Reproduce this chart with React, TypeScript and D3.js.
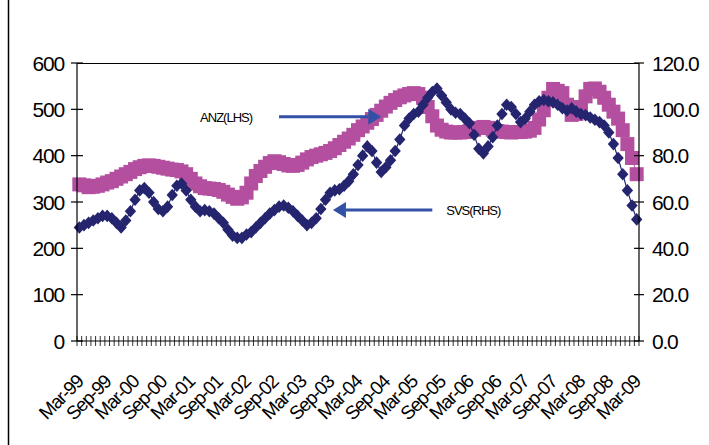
import React, { useEffect, useRef } from "react"
import * as d3 from "d3"

const width = 709
const height = 445

// monthly closes, Mar-99 .. Mar-09 (121 points)
// ANZ share price, left axis
const anz: number[] = [
	338, 336, 332, 333, 335, 338, 342, 345, 350, 355, 360, 365, 371, 375, 378,
	379, 378, 376, 374, 372, 370, 369, 366, 360, 350, 340, 334, 330, 329, 328,
	326, 322, 316, 311, 307, 310, 320, 340, 356, 367, 376, 384, 388, 386, 382,
	379, 378, 380, 385, 392, 397, 400, 403, 406, 410, 416, 423, 430, 437, 445,
	455, 463, 471, 479, 488, 497, 506, 514, 520, 526, 530, 533, 535, 533, 525,
	505, 485, 465, 456, 452, 450, 450, 450, 451, 453, 456, 460, 462, 460, 456,
	453, 452, 451, 450, 451, 451, 452, 454, 460, 478, 498, 525, 544, 540, 535,
	510, 488, 490, 505, 528, 544, 545, 538, 525, 510, 495, 480, 455, 425, 395,
	360,
]

// SVS index, right axis
const svs: number[] = [
	49, 50, 51, 52, 53, 54, 54, 53, 51, 49, 52, 56, 61, 65, 66, 64, 60, 57, 56,
	58, 63, 67, 68, 65, 61, 58, 56, 56.5, 56, 55, 53, 51, 48, 45.5, 44.5, 44.5,
	46, 47, 49, 51, 53, 55, 56.5, 58, 58.5, 57.5, 56, 54, 52, 50, 51, 53, 57, 61,
	64, 65, 65.5, 67, 69, 72, 76, 80, 84, 82, 77, 73, 75, 78, 82, 87, 93, 96, 98,
	99, 102, 105, 107.5, 109, 106, 103, 100, 98.5, 98, 96, 94, 89, 83, 81, 84, 88,
	93, 98, 102, 101, 98, 94.5, 96, 99, 102, 103.5, 104, 103.5, 103, 102, 100.5,
	99.5, 100.5, 99, 98, 97.5, 96.5, 95.5, 94.5, 93, 90, 85, 79, 72, 65, 58.5,
	52.5,
]

const leftTicks = [0, 100, 200, 300, 400, 500, 600]
const rightTicks = [0, 20, 40, 60, 80, 100, 120]
const tickLabels = [
	"Mar-99", "Sep-99", "Mar-00", "Sep-00", "Mar-01", "Sep-01", "Mar-02",
	"Sep-02", "Mar-03", "Sep-03", "Mar-04", "Sep-04", "Mar-05", "Sep-05",
	"Mar-06", "Sep-06", "Mar-07", "Sep-07", "Mar-08", "Sep-08", "Mar-09",
]

// annotations: label position, arrow start month, arrow tip month, value on its own axis
const anzNote = { text: "ANZ(LHS)", textAt: 26, from: 43, to: 65, value: 484 }
const svsNote = { text: "SVS(RHS)", textAt: 79, from: 76, to: 54.6, value: 56.5 }

const App: React.FC = () => {
	const ref = useRef<SVGSVGElement>(null)

	useEffect(() => {
		const svg = d3.select(ref.current)
		svg.selectAll("*").remove()

		const plot = { left: 77, right: 639, top: 63, bottom: 341 }
		const font = "'Liberation Sans', Arial, sans-serif"
		const navy = "#25256f"
		const magenta = "#b44fa0"
		const arrowBlue = "#3150a6"

		const months = d3.range(anz.length)
		const x = d3
			.scaleBand<number>()
			.domain(months)
			.range([plot.left, plot.right])
		const cx = (i: number) => x(0)! + (i + 0.5) * x.step()
		const yL = d3.scaleLinear().domain([0, 600]).range([plot.bottom, plot.top])
		const yR = d3.scaleLinear().domain([0, 120]).range([plot.bottom, plot.top])

		// frame line on the left of the image
		svg.append("line")
			.attr("x1", 8.5).attr("x2", 8.5)
			.attr("y1", 0).attr("y2", height)
			.attr("stroke", "#000").attr("stroke-width", 1.5)

		// plot border (top)
		svg.append("line")
			.attr("x1", plot.left).attr("x2", plot.right)
			.attr("y1", plot.top + 0.5).attr("y2", plot.top + 0.5)
			.attr("stroke", "#000")

		/* ********************* SERIES ********************* */
		const lineL = d3.line<number>().x((d, i) => cx(i)).y((d) => yL(d))
		const lineR = d3.line<number>().x((d, i) => cx(i)).y((d) => yR(d))

		svg.append("path")
			.attr("d", lineL(anz))
			.attr("fill", "none")
			.attr("stroke", magenta)
			.attr("stroke-width", 1)
		const sq = 14
		svg.append("g")
			.selectAll("rect")
			.data(anz)
			.join("rect")
			.attr("x", (d, i) => cx(i) - sq / 2)
			.attr("y", (d) => yL(d) - sq / 2)
			.attr("width", sq)
			.attr("height", sq)
			.attr("fill", magenta)

		svg.append("path")
			.attr("d", lineR(svs))
			.attr("fill", "none")
			.attr("stroke", navy)
			.attr("stroke-width", 1.2)
		const r = 6.3
		svg.append("g")
			.selectAll("path")
			.data(svs)
			.join("path")
			.attr("d", (d, i) => {
				const px = cx(i)
				const py = yR(d)
				return `M${px},${py - r}L${px + r * 0.9},${py}L${px},${py + r}L${px - r * 0.9},${py}Z`
			})
			.attr("fill", navy)

		/* ********************* AXES ********************* */
		const axes = svg.append("g").attr("stroke", "#000").attr("stroke-width", 1.2)
		axes.append("line")
			.attr("x1", plot.left).attr("x2", plot.left)
			.attr("y1", plot.top).attr("y2", plot.bottom)
		axes.append("line")
			.attr("x1", plot.right).attr("x2", plot.right)
			.attr("y1", plot.top).attr("y2", plot.bottom)
		axes.append("line")
			.attr("x1", plot.left).attr("x2", plot.right)
			.attr("y1", plot.bottom).attr("y2", plot.bottom)

		axes.selectAll(".lt")
			.data(leftTicks)
			.join("line")
			.attr("class", "lt")
			.attr("x1", plot.left - 6).attr("x2", plot.left + 6)
			.attr("y1", (d) => yL(d)).attr("y2", (d) => yL(d))
		axes.selectAll(".rt")
			.data(rightTicks)
			.join("line")
			.attr("class", "rt")
			.attr("x1", plot.right - 5).attr("x2", plot.right + 5)
			.attr("y1", (d) => yR(d)).attr("y2", (d) => yR(d))
		axes.selectAll(".xt")
			.data(d3.range(anz.length + 1))
			.join("line")
			.attr("class", "xt")
			.attr("stroke-width", 0.8)
			.attr("x1", (d) => plot.left + d * x.step())
			.attr("x2", (d) => plot.left + d * x.step())
			.attr("y1", plot.bottom - 5).attr("y2", plot.bottom + 5)

		svg.append("g")
			.selectAll("text")
			.data(leftTicks)
			.join("text")
			.attr("x", 64)
			.attr("y", (d) => yL(d))
			.attr("dy", "0.36em")
			.attr("text-anchor", "end")
			.style("font-family", font)
			.style("font-size", "21px")
			.style("letter-spacing", "-1.2px")
			.text((d) => d)

		svg.append("g")
			.selectAll("text")
			.data(rightTicks)
			.join("text")
			.attr("x", 652)
			.attr("y", (d) => yR(d))
			.attr("dy", "0.36em")
			.style("font-family", font)
			.style("font-size", "21px")
			.style("letter-spacing", "-1.2px")
			.text((d) => d.toFixed(1))

		svg.append("g")
			.selectAll("text")
			.data(tickLabels)
			.join("text")
			.attr("transform", (d, i) => `translate(${cx(i * 6) + 5},${383}) rotate(-45)`)
			.attr("text-anchor", "end")
			.style("font-family", font)
			.style("font-size", "19px")
			.style("letter-spacing", "-1.2px")
			.text((d) => d)

		/* ********************* ANNOTATIONS ********************* */
		function arrow(fromX: number, toX: number, y: number) {
			const dir = toX > fromX ? 1 : -1
			const head = 13
			svg.append("line")
				.attr("x1", fromX).attr("x2", toX - dir * head)
				.attr("y1", y).attr("y2", y)
				.attr("stroke", arrowBlue).attr("stroke-width", 3)
			svg.append("path")
				.attr("d", `M${toX},${y}L${toX - dir * head},${y - 8}L${toX - dir * head},${y + 8}Z`)
				.attr("fill", arrowBlue)
		}
		const anzY = yL(anzNote.value)
		arrow(cx(anzNote.from), cx(anzNote.to), anzY)
		const svsY = yR(svsNote.value)
		arrow(cx(svsNote.from), cx(svsNote.to), svsY)

		svg.append("text")
			.attr("x", cx(anzNote.textAt))
			.attr("y", anzY + 5)
			.style("font-family", font)
			.style("font-size", "13px")
			.style("letter-spacing", "-1px")
			.text(anzNote.text)
		svg.append("text")
			.attr("x", cx(svsNote.textAt))
			.attr("y", svsY + 5)
			.style("font-family", font)
			.style("font-size", "13px")
			.style("letter-spacing", "-1px")
			.text(svsNote.text)
	}, [])

	return (
		<svg
			ref={ref}
			width={width}
			height={height}
			style={{ position: "absolute", left: 0, top: 0, background: "#fff" }}
		/>
	)
}

export default App
